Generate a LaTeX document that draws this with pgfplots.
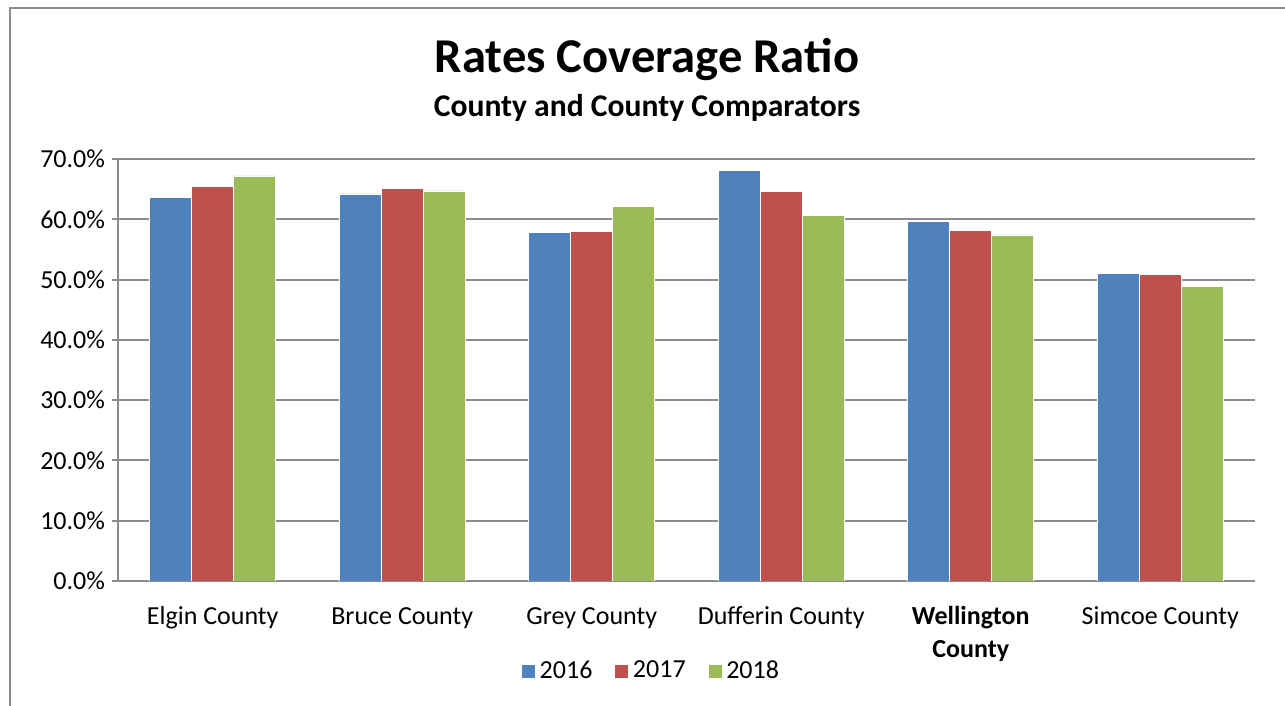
\documentclass[border=0pt]{standalone}
\usepackage{pgfplots}
\pgfplotsset{compat=1.18}
\usepackage{fontspec}
\setmainfont{Carlito}
\definecolor{c16}{HTML}{4F81BD}
\definecolor{c17}{HTML}{C0504D}
\definecolor{c18}{HTML}{9BBB59}
\definecolor{gridgray}{HTML}{8C8C8C}
\begin{document}
\begin{tikzpicture}
% canvas in px of the reference, 1 px = 0.5bp
\path[use as bounding box] (0bp,0bp) rectangle (642.5bp,353bp);
\draw[gridgray,line width=1.2bp] (5bp,0bp) -- (5bp,349bp) -- (642.5bp,349bp);
\node[font=\fontsize{24.3bp}{28bp}\selectfont\bfseries] at (323.5bp,323bp) {Rates Coverage Ratio};
\node[font=\fontsize{15.8bp}{19bp}\selectfont\bfseries] at (323.5bp,299bp) {County and County Comparators};
\begin{axis}[
  at={(59bp,62.5bp)}, anchor=south west,
  scale only axis, width=568.5bp, height=211bp,
  ybar=0pt, bar width=21bp,
  xmin=-0.5, xmax=5.5, ymin=0, ymax=70,
  xtick={0,...,5},
  xticklabels={Elgin County\strut,Bruce County\strut,Grey County\strut,Dufferin County\strut,{\textbf{Wellington}\strut\\\textbf{County}\strut},Simcoe County\strut},
  x tick label style={align=center,anchor=north,yshift=-3.5bp,font=\fontsize{13bp}{16.5bp}\selectfont},
  major x tick style={draw=none},
  extra x ticks={-0.5,0.5,1.5,2.5,3.5,4.5,5.5},
  extra x tick labels={},
  extra x tick style={major tick length=5bp,tick style={draw=gridgray,line width=1bp},tick align=outside,grid=none},
  ytick={0,10,...,70},
  yticklabel={\pgfmathprintnumber[fixed,fixed zerofill,precision=1]{\tick}\%},
  y tick label style={font=\fontsize{13bp}{15bp}\selectfont},
  /pgf/number format/assume math mode=true,
  ymajorgrids,
  grid style={gridgray,line width=1bp},
  axis lines*=left,
  axis line style={gridgray,line width=1bp,-},
  tick align=outside, major tick length=3bp,
  ytick style={draw=gridgray,line width=1bp},
  tick pos=left,
  legend style={at={(0.4697,-0.213)},anchor=center,draw=none,legend columns=-1,
    font=\fontsize{13bp}{15bp}\selectfont,
    /tikz/every even column/.append style={column sep=9bp}},
  legend image code/.code={\fill[#1] (0bp,-3.5bp) rectangle (7bp,3.5bp);},
]
\addplot[fill=c16,draw=white,line width=0.3bp] coordinates {(0,63.6) (1,64.2) (2,57.8) (3,68.1) (4,59.7) (5,51.0)};
\addplot[fill=c17,draw=white,line width=0.3bp] coordinates {(0,65.4) (1,65.1) (2,58.0) (3,64.6) (4,58.1) (5,50.9)};
\addplot[fill=c18,draw=white,line width=0.3bp] coordinates {(0,67.2) (1,64.7) (2,62.2) (3,60.7) (4,57.4) (5,48.9)};
\legend{2016,2017,2018}
\end{axis}
\end{tikzpicture}
\end{document}
